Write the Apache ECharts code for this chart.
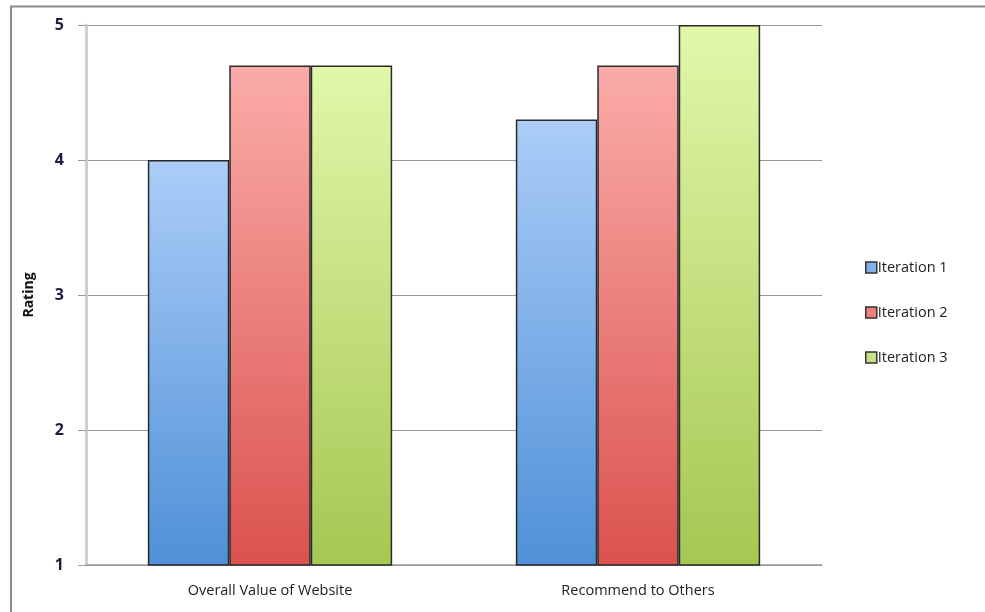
<!DOCTYPE html>
<html>
<head>
<meta charset="utf-8">
<script src="https://cdn.jsdelivr.net/npm/echarts@6/dist/echarts.min.js"></script>
<style>
  html, body { margin: 0; padding: 0; background: #fff; }
  #chart { width: 985px; height: 612px; }
</style>
</head>
<body>
<div id="chart"></div>
<script>
// Survey ratings per website iteration
const categories = ['Overall Value of Website', 'Recommend to Others'];
const seriesNames = ['Iteration 1', 'Iteration 2', 'Iteration 3'];
const iteration1 = [4.0, 4.3];
const iteration2 = [4.7, 4.7];
const iteration3 = [4.7, 5.0];
const yTicks = [1, 2, 3, 4, 5];

const fills = [
  { top: '#abcdf8', bottom: '#4f90d7', icon: '#80b2ea' },
  { top: '#faaca8', bottom: '#db524e', icon: '#ee7f7b' },
  { top: '#e2f7aa', bottom: '#a5c752', icon: '#c6e284' }
];

function grad(f) {
  return new echarts.graphic.LinearGradient(0, 0, 0, 1, [
    { offset: 0, color: f.top },
    { offset: 1, color: f.bottom }
  ]);
}

const values = [iteration1, iteration2, iteration3];
const chart = echarts.init(document.getElementById('chart'));

chart.setOption({
  animation: false,
  textStyle: { fontFamily: 'Open Sans' },
  grid: { left: 86, right: 163, top: 25, bottom: 47 },
  legend: {
    orient: 'vertical',
    left: 860,
    top: 255,
    itemWidth: 11,
    itemHeight: 11,
    itemGap: 30,
    textStyle: { fontSize: 14.5, color: '#222', padding: [0, 0, 0, -4] },
    data: seriesNames.map((n, i) => ({
      name: n,
      icon: 'rect',
      itemStyle: { color: fills[i].icon, borderColor: '#333', borderWidth: 1.5 }
    }))
  },
  xAxis: {
    type: 'category',
    data: categories,
    axisLine: { lineStyle: { color: '#9a9a9a', width: 1.5 } },
    axisTick: { show: false },
    axisLabel: { fontSize: 14.5, color: '#222', margin: 18 }
  },
  yAxis: {
    type: 'value',
    min: 1,
    max: 5,
    interval: 1,
    name: 'Rating',
    nameLocation: 'middle',
    nameGap: 50,
    nameTextStyle: { fontSize: 14, fontWeight: 'bold', color: '#111' },
    axisLine: { show: true, lineStyle: { color: '#cfcfcf', width: 3 } },
    axisTick: { show: true, length: 8, lineStyle: { color: '#9a9a9a' } },
    axisLabel: {
      fontSize: 16, fontWeight: 'bold', color: '#1c1c44', margin: 22,
      customValues: yTicks
    },
    splitLine: { lineStyle: { color: '#9a9a9a', width: 1.2 } }
  },
  series: seriesNames.map((n, i) => ({
    name: n,
    type: 'bar',
    data: values[i],
    barGap: '0%',
    barCategoryGap: '33.6%',
    itemStyle: { color: grad(fills[i]), borderColor: '#2a2a2a', borderWidth: 1.5 }
  })),
  graphic: [
    {
      type: 'polyline',
      shape: { points: [[11, 612], [11, 6.5], [985, 6.5]] },
      style: { stroke: '#8a8a8a', lineWidth: 2, fill: null },
      silent: true
    }
  ]
});
</script>
</body>
</html>
